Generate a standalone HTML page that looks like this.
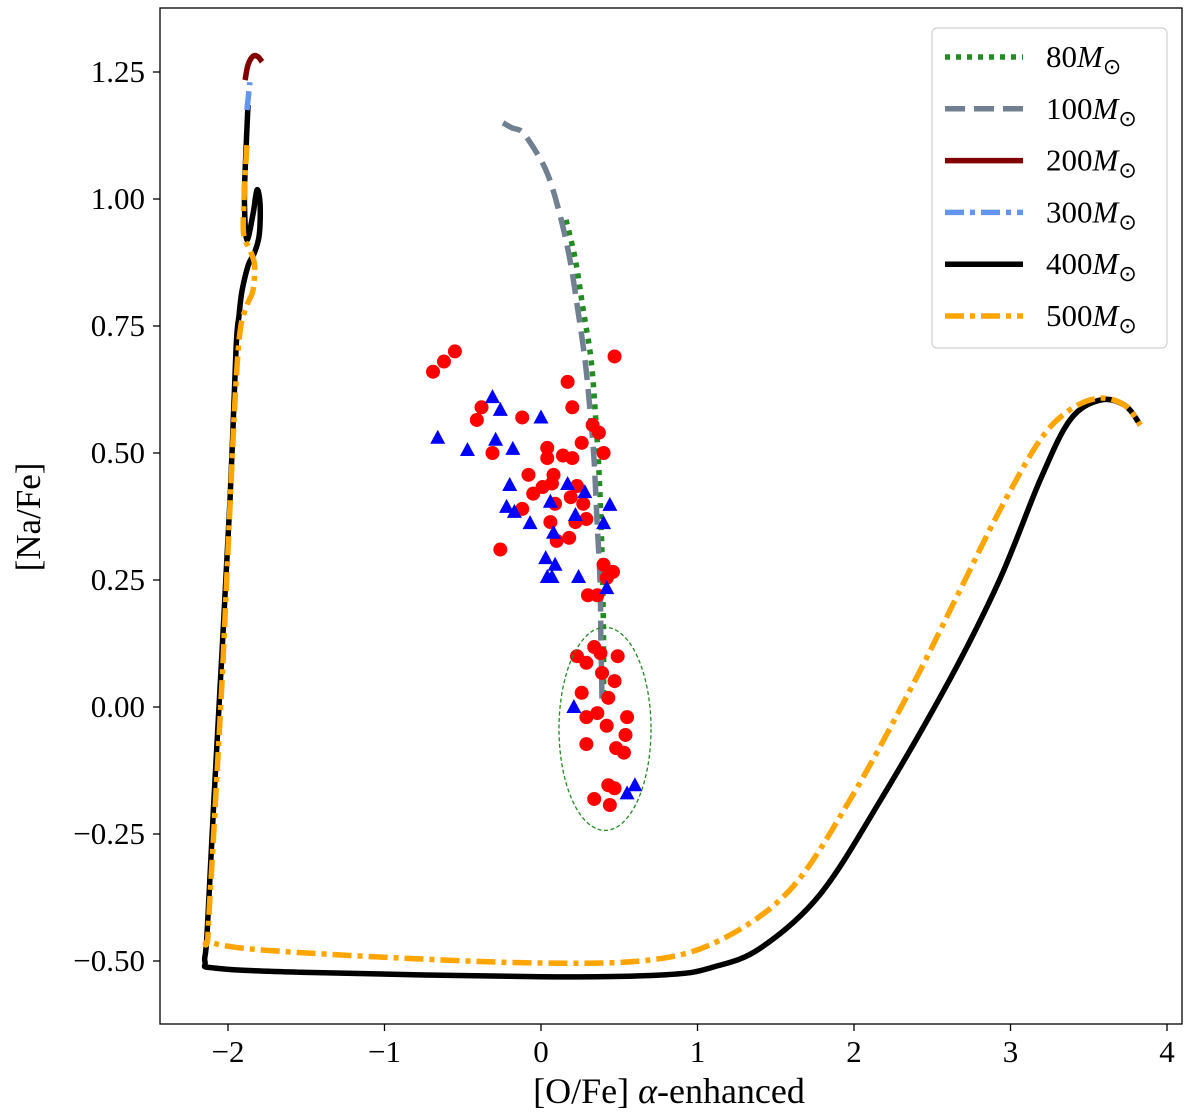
<!DOCTYPE html>
<html><head><meta charset="utf-8"><style>
html,body{margin:0;padding:0;background:#fff;}
svg{display:block;font-family:"Liberation Serif",serif;}
</style></head><body>
<svg id="chart" width="1200" height="1120" viewBox="0 0 1200 1120" xmlns="http://www.w3.org/2000/svg">
<defs><clipPath id="clip"><rect x="160" y="8" width="1022" height="1016"/></clipPath></defs>
<g id="marks" clip-path="url(#clip)"></g>
<rect x="160" y="8" width="1022" height="1016" fill="none" stroke="#000" stroke-width="1.3"/>
<g id="axes"></g>
<text transform="translate(40,517) rotate(-90)" text-anchor="middle" font-size="35">[Na/Fe]</text>
<text x="669" y="1103" text-anchor="middle" font-size="36">[O/Fe] <tspan font-style="italic">α</tspan>-enhanced</text>
<g id="legend"></g>
</svg>
<script>
const xTicks=[-2,-1,0,1,2,3,4];
const yTicks=[-0.5,-0.25,0,0.25,0.5,0.75,1.0,1.25];
const yTickLabels=["\u22120.50","\u22120.25","0.00","0.25","0.50","0.75","1.00","1.25"];
const xTickLabels=["\u22122","\u22121","0","1","2","3","4"];
// model tracks
const m80X=[0.16,0.22,0.27,0.32,0.35,0.37,0.385,0.395,0.40,0.40];
const m80Y=[0.959,0.88,0.781,0.683,0.565,0.467,0.348,0.23,0.112,0.014];
const m100X=[-0.243,-0.185,-0.121,-0.038,0.045,0.121,0.185,0.236,0.281,0.313,0.339,0.358,0.377,0.383,0.39];
const m100Y=[1.15,1.14,1.132,1.096,1.047,0.969,0.88,0.781,0.683,0.585,0.486,0.368,0.25,0.132,0.014];
const m200X=[-1.891,-1.872,-1.84,-1.808,-1.783];
const m200Y=[1.234,1.264,1.281,1.28,1.27];
const m300X=[-1.879,-1.86];
const m300Y=[1.175,1.23];
const m400X=[-1.872,-1.885,-1.895,-1.88,-1.84,-1.815,-1.795,-1.80,-1.83,-1.87,-1.91,-1.93,-1.949,-1.987,-2.038,-2.09,-2.134,-2.147,-2.083,-1.54,0,0.80,1.10,1.40,1.78,2.17,2.61,2.93,3.19,3.38,3.57,3.73,3.83];
const m400Y=[1.185,1.096,1.0,0.92,0.97,1.018,0.99,0.93,0.895,0.87,0.82,0.77,0.703,0.407,0.112,-0.183,-0.449,-0.502,-0.514,-0.522,-0.531,-0.527,-0.512,-0.475,-0.37,-0.183,0.053,0.25,0.447,0.565,0.604,0.594,0.555];
const m500X=[-1.879,-1.898,-1.90,-1.86,-1.83,-1.84,-1.88,-1.923,-1.955,-1.994,-2.038,-2.09,-2.128,-2.115,-1.796,-0.90,0,0.696,1.144,1.591,1.974,2.358,2.677,2.933,3.19,3.38,3.57,3.73,3.83];
const m500Y=[1.106,0.998,0.93,0.90,0.87,0.82,0.79,0.74,0.604,0.348,0.053,-0.242,-0.449,-0.463,-0.478,-0.494,-0.504,-0.498,-0.459,-0.360,-0.183,0.033,0.23,0.388,0.526,0.585,0.608,0.594,0.555];
// observations
const redX=[-0.55,-0.62,-0.69,0.47,0.17,-0.38,-0.41,-0.12,0.20,0.33,0.37,0.26,0.04,0.40,0.04,0.14,0.20,-0.31,-0.08,0.08,0.07,0.01,-0.05,0.23,0.19,0.27,0.09,-0.12,0.06,0.22,0.29,0.10,0.18,-0.26,0.40,0.46,0.42,0.30,0.36,
 0.34,0.23,0.29,0.38,0.49,0.39,0.47,0.26,0.43,0.29,0.36,0.55,0.42,0.54,0.29,0.48,0.53,0.43,0.47,0.34,0.44];
const redY=[0.70,0.68,0.66,0.69,0.64,0.59,0.565,0.57,0.59,0.555,0.54,0.52,0.51,0.50,0.49,0.495,0.49,0.50,0.457,0.457,0.44,0.433,0.42,0.435,0.413,0.40,0.40,0.39,0.364,0.364,0.37,0.327,0.333,0.31,0.28,0.266,0.254,0.22,0.22,
 0.118,0.10,0.087,0.106,0.10,0.067,0.051,0.028,0.018,-0.02,-0.012,-0.02,-0.037,-0.055,-0.073,-0.081,-0.09,-0.154,-0.16,-0.181,-0.193];
const blueX=[-0.31,-0.26,0,-0.66,-0.47,-0.29,-0.18,-0.20,-0.22,-0.17,-0.07,0.06,0.17,0.28,0.44,0.40,0.22,0.08,0.03,0.09,0.04,0.07,0.24,0.42,0.21,0.60,0.55];
const blueY=[0.61,0.585,0.57,0.53,0.506,0.526,0.508,0.437,0.394,0.384,0.362,0.404,0.439,0.423,0.398,0.362,0.378,0.343,0.293,0.28,0.256,0.256,0.256,0.234,0,-0.154,-0.17];
const ellipseC=[0.409,-0.043];
const ellipseR=[0.294,0.2];

const NS="http://www.w3.org/2000/svg";
const sx=v=>541+v*156.5;
const sy=v=>707-v*508;
function mk(tag,attrs,parent){const e=document.createElementNS(NS,tag);for(const k in attrs)e.setAttribute(k,attrs[k]);parent.appendChild(e);return e;}
const marks=document.getElementById('marks'), axes=document.getElementById('axes'), legend=document.getElementById('legend');

function smoothPath(xs,ys){
  const P=xs.map((x,i)=>[sx(x),sy(ys[i])]);
  let d='M'+P[0][0].toFixed(1)+' '+P[0][1].toFixed(1);
  for(let i=0;i<P.length-1;i++){
    const p0=P[i-1]||P[i],p1=P[i],p2=P[i+1],p3=P[i+2]||P[i+1];
    const c1=[p1[0]+(p2[0]-p0[0])/6,p1[1]+(p2[1]-p0[1])/6];
    const c2=[p2[0]-(p3[0]-p1[0])/6,p2[1]-(p3[1]-p1[1])/6];
    d+=` C${c1[0].toFixed(1)} ${c1[1].toFixed(1)} ${c2[0].toFixed(1)} ${c2[1].toFixed(1)} ${p2[0].toFixed(1)} ${p2[1].toFixed(1)}`;
  }
  return d;
}
function track(xs,ys,color,dash,name,w){
  const p=mk('path',{d:smoothPath(xs,ys),fill:'none',stroke:color,'stroke-width':w||5.5,'stroke-dasharray':dash,'stroke-linejoin':'round'},marks);
  
  
}
const styles=[
 {lab:'80',c:'#228b22',dash:'5 6',name:'track-80msun'},
 {lab:'100',c:'#708090',dash:'20 9',name:'track-100msun'},
 {lab:'200',c:'#800000',dash:'none',name:'track-200msun'},
 {lab:'300',c:'#6495ed',dash:'19 6 5 6',name:'track-300msun'},
 {lab:'400',c:'#000000',dash:'none',name:'track-400msun'},
 {lab:'500',c:'#ffa500',dash:'19 6 5 6',name:'track-500msun'}];
track(m400X,m400Y,styles[4].c,styles[4].dash,styles[4].name);
track(m500X,m500Y,styles[5].c,styles[5].dash,styles[5].name);
track(m200X,m200Y,styles[2].c,styles[2].dash,styles[2].name);
track(m300X,m300Y,styles[3].c,styles[3].dash,styles[3].name);
track(m80X,m80Y,styles[0].c,styles[0].dash,styles[0].name);
track(m100X,m100Y,styles[1].c,styles[1].dash,styles[1].name);

redX.forEach((x,i)=>{
  const c=mk('circle',{cx:sx(x),cy:sy(redY[i]),r:7,fill:'#ff0000'},marks);
  
  
});
blueX.forEach((x,i)=>{
  const X=sx(x),Y=sy(blueY[i]);
  const t=mk('polygon',{points:`${X},${Y-8} ${X-7.5},${Y+6} ${X+7.5},${Y+6}`,fill:'#0000ff'},marks);
  
  
});
const el=mk('ellipse',{cx:sx(ellipseC[0]),cy:sy(ellipseC[1]),rx:ellipseR[0]*156.5,ry:ellipseR[1]*508,fill:'none',stroke:'#228b22','stroke-width':1.3,'stroke-dasharray':'4 2.5'},marks);



xTicks.forEach((v,i)=>{
  const l=mk('line',{x1:sx(v),x2:sx(v),y1:1024,y2:1031,stroke:'#000','stroke-width':1.3},axes);
  
  
  const t=mk('text',{x:sx(v),y:1062,'text-anchor':'middle','font-size':31},axes);
  t.textContent=xTickLabels[i];
  
  
});
yTicks.forEach((v,i)=>{
  const l=mk('line',{x1:153,x2:160,y1:sy(v),y2:sy(v),stroke:'#000','stroke-width':1.3},axes);
  
  
  const t=mk('text',{x:145,y:sy(v)+10,'text-anchor':'end','font-size':31},axes);
  t.textContent=yTickLabels[i];
  
  
});

const box=mk('rect',{x:932,y:28,width:235,height:320,rx:5,fill:'#fff','fill-opacity':0.85,stroke:'#d0d0d0','stroke-width':1.2},legend);


styles.forEach((s,i)=>{
  const y=57+i*51.8;
  const g=mk('g',{},legend);
  
  
  mk('line',{x1:945,x2:1023,y1:y,y2:y,stroke:s.c,'stroke-width':5.5,'stroke-dasharray':s.dash},g);
  const t=mk('text',{x:1046,y:y+10,'font-size':31},g);
  t.innerHTML=s.lab+'<tspan font-style="italic">M</tspan><tspan font-size="22" dy="7">\u2299</tspan>';
});
</script>
</body></html>
